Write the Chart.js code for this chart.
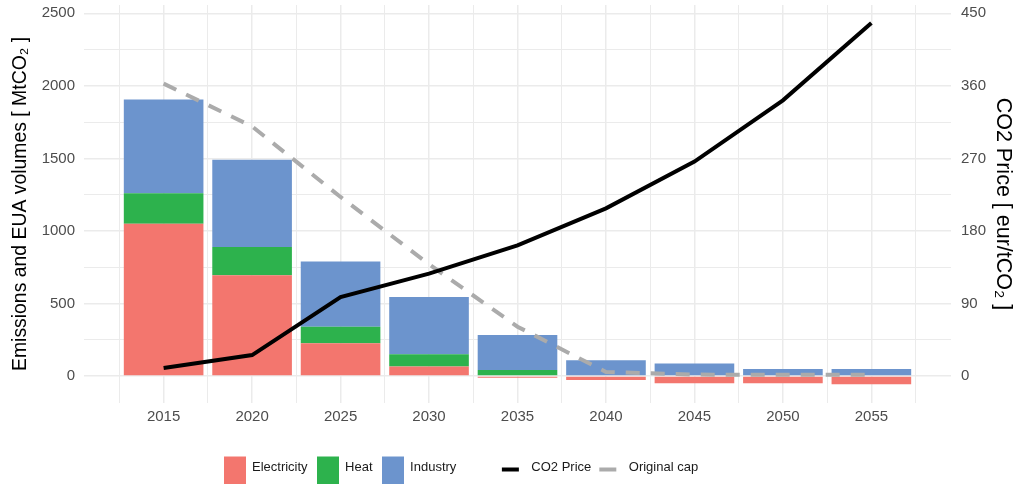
<!DOCTYPE html>
<html>
<head>
<meta charset="utf-8">
<script src="https://cdn.jsdelivr.net/npm/chart.js@4.4.1/dist/chart.umd.min.js"></script>
<style>
  html, body { margin: 0; padding: 0; background: #fff; }
  #wrap { width: 1026px; height: 484px; }
</style>
</head>
<body>
<div id="wrap"><canvas id="chart" width="1026" height="484"></canvas></div>
<script>
// values (MtCO2 and eur/tCO2)
const years = [2015, 2020, 2025, 2030, 2035, 2040, 2045, 2050, 2055];
const electricity = [1050, 695, 225, 65, -12, -28, -50, -50, -57];
const heat = [210, 195, 115, 85, 41, 0, 0, 0, 0];
const industry = [645, 600, 450, 395, 241, 108, 87, 48, 48];
const co2Price = [10, 26, 98, 127, 162, 208, 266, 342, 438];
const originalCap = [2015, 1720, 1234, 770, 340, 28, 10, 8, 8];

const emissionTicks = [0, 500, 1000, 1500, 2000, 2500];
const priceTicks = [0, 90, 180, 270, 360, 450];

const priceFactor = 450 / 2500;   // secondary axis: 450 eur/t <-> 2500 Mt
const yMin = -186, yMax = 2557;
const xMin = 2010.5, xMax = 2059.5;

const RED = '#F3766E', GREEN = '#2DB24D', BLUE = '#6C94CD', CAP = '#ABABAB';
const GRID = '#EBEBEB';

Chart.defaults.font.family = "'Liberation Sans', Arial, sans-serif";

function pts(vals) {
    return years.map((y, i) => ({ x: y, y: vals[i] }));
}

function minorValues(majors, step, min, max) {
    const out = [];
    majors.forEach(v => {
        [v - step / 2, v + step / 2].forEach(m => {
            if (m > min && m < max && !out.includes(m) && !majors.includes(m)) out.push(m);
        });
    });
    return out.sort((a, b) => a - b);
}

// legend keys as small canvases
function keyCanvas(w, h, color, rx, ry, rw, rh) {
    const c = document.createElement('canvas');
    c.width = w;
    c.height = h;
    const g = c.getContext('2d');
    g.fillStyle = color;
    g.fillRect(rx, ry, rw, rh);
    return c;
}
const boxKey = color => keyCanvas(22, 56, color, 0, 17, 22, 39);
const lineKey = color => keyCanvas(30, 10, color, 3, 5, 17, 4);
const blankKey = keyCanvas(1, 1, 'rgba(0,0,0,0)', 0, 0, 1, 1);

const legendStart = {
    id: 'legendStart',
    afterLayout(chart) {
        const lg = chart.legend;
        lg.left = 223.5 - lg.options.labels.padding;
    }
};

// no extra room for edge labels on the value axes
function noEdgePadding(s) {
    s.paddingTop = 0;
    s.paddingBottom = 0;
}

const tickFont = { size: 15 };

const canvas = document.getElementById('chart');
new Chart(canvas, {
    type: 'bar',
    data: {
        datasets: [
            { label: 'Electricity', data: pts(electricity), backgroundColor: RED, order: 1, stack: 'sectors' },
            { label: 'Heat', data: pts(heat), backgroundColor: GREEN, order: 1, stack: 'sectors' },
            { label: 'Industry', data: pts(industry), backgroundColor: BLUE, order: 1, stack: 'sectors' },
            {
                type: 'line', label: 'CO2 Price', data: pts(co2Price), yAxisID: 'y2',
                borderColor: '#000', borderWidth: 4, pointRadius: 0, tension: 0, order: 0
            },
            {
                type: 'line', label: 'Original cap', data: pts(originalCap), yAxisID: 'y', stack: 'cap',
                borderColor: CAP, borderWidth: 4, borderDash: [14, 11], pointRadius: 0, tension: 0, order: 0
            }
        ]
    },
    options: {
        responsive: false,
        animation: false,
        datasets: {
            bar: { categoryPercentage: 1, barPercentage: 0.9 }
        },
        layout: { padding: { top: 5, left: 0, right: 0, bottom: 0 } },
        plugins: {
            tooltip: { enabled: false },
            legend: {
                position: 'bottom',
                align: 'start',
                labels: {
                    usePointStyle: true,
                    pointStyleWidth: 22,
                    padding: 9,
                    color: '#1A1A1A',
                    font: { size: 13 },
                    generateLabels(chart) {
                        const ds = chart.data.datasets;
                        const item = (i, style) => ({
                            text: ds[i].label, datasetIndex: i, pointStyle: style,
                            fillStyle: 'rgba(0,0,0,0)', strokeStyle: 'rgba(0,0,0,0)', lineWidth: 0,
                            hidden: !chart.isDatasetVisible(i), fontColor: '#1A1A1A'
                        });
                        return [
                            item(0, boxKey(RED)),
                            item(1, boxKey(GREEN)),
                            item(2, boxKey(BLUE)),
                            { text: '', pointStyle: blankKey, fillStyle: 'rgba(0,0,0,0)', strokeStyle: 'rgba(0,0,0,0)', lineWidth: 0, hidden: false },
                            item(3, lineKey('#000')),
                            item(4, lineKey(CAP))
                        ];
                    }
                }
            }
        },
        scales: {
            x: {
                type: 'linear',
                position: 'bottom',
                min: xMin,
                max: xMax,
                bounds: 'data',
                offset: false,
                stacked: true,
                border: { display: false },
                grid: { color: GRID, lineWidth: 1.5, drawTicks: false, offset: false },
                ticks: {
                    font: tickFont, color: '#4D4D4D', padding: 4.5, autoSkip: false, maxRotation: 0,
                    callback: v => String(v)
                },
                afterBuildTicks: s => { s.ticks = years.map(v => ({ value: v })); },
                afterFit: s => { s.height = 49; }
            },
            xMinor: {
                type: 'linear',
                position: 'bottom',
                min: xMin,
                max: xMax,
                bounds: 'data',
                offset: false,
                border: { display: false },
                grid: { color: GRID, lineWidth: 1, drawTicks: false, offset: false },
                ticks: { display: false },
                afterBuildTicks: s => { s.ticks = minorValues(years, 5, xMin, xMax).map(v => ({ value: v })); },
                afterFit: s => { s.height = 0; }
            },
            y: {
                type: 'linear',
                position: 'left',
                stacked: true,
                min: yMin,
                max: yMax,
                bounds: 'data',
                border: { display: false },
                grid: {
                    drawTicks: false,
                    color: GRID,
                    lineWidth: c => (c.tick && emissionTicks.includes(c.tick.value)) ? 1.5 : 1
                },
                ticks: {
                    font: tickFont, color: '#4D4D4D', padding: 9, autoSkip: false,
                    callback: v => emissionTicks.includes(v) ? String(v) : ''
                },
                afterBuildTicks: s => {
                    const vals = emissionTicks.concat(minorValues(emissionTicks, 500, yMin, yMax));
                    s.ticks = vals.sort((a, b) => a - b).map(v => ({ value: v }));
                },
                afterFit: s => { s.width = 84; noEdgePadding(s); },
                title: {
                    display: true,
                    text: 'Emissions and EUA volumes [ MtCO₂ ]',
                    color: '#000',
                    font: { size: 19.4 },
                    padding: { top: 9.4, bottom: 0 }
                }
            },
            y2: {
                type: 'linear',
                position: 'right',
                min: yMin * priceFactor,
                max: yMax * priceFactor,
                bounds: 'data',
                border: { display: false },
                grid: { display: false, drawTicks: false },
                ticks: {
                    font: tickFont, color: '#4D4D4D', padding: 10, autoSkip: false,
                    callback: v => String(v)
                },
                afterBuildTicks: s => { s.ticks = priceTicks.map(v => ({ value: v })); },
                afterFit: s => { s.width = 75; noEdgePadding(s); },
                title: {
                    display: true,
                    text: 'CO2 Price [ eur/tCO₂ ]',
                    color: '#000',
                    font: { size: 21.5 },
                    padding: { top: 10, bottom: 0 }
                }
            }
        }
    },
    plugins: [legendStart]
});
</script>
</body>
</html>
